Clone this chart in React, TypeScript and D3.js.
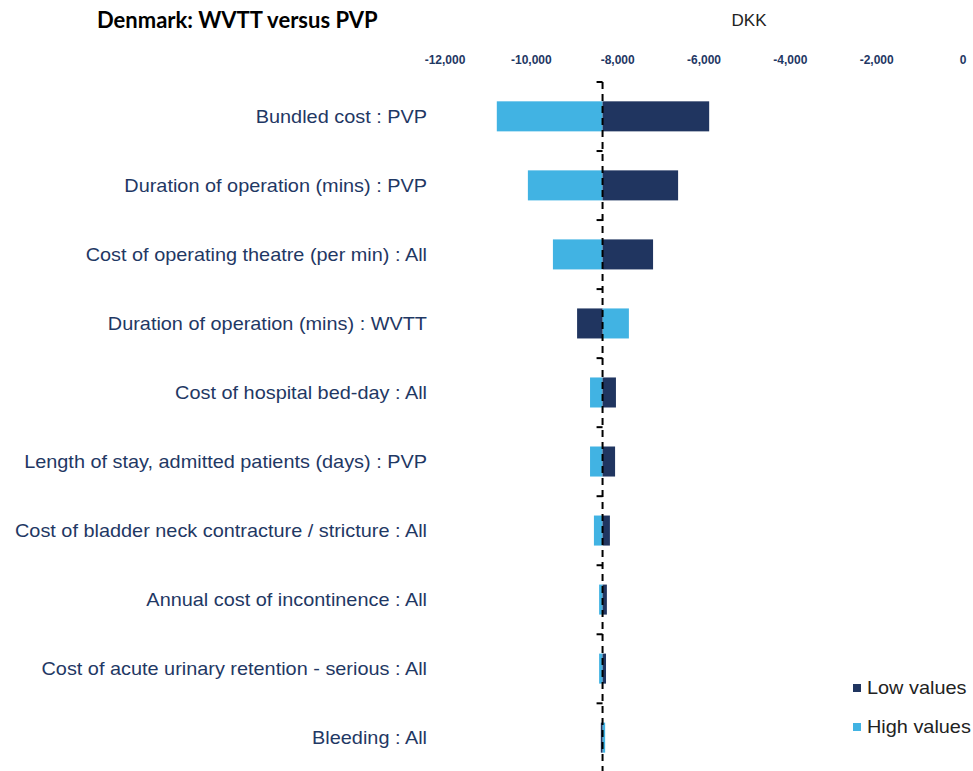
import React from "react";
import * as d3 from "d3";

const categories = [
  "Bundled cost : PVP",
  "Duration of operation (mins) : PVP",
  "Cost of operating theatre (per min) : All",
  "Duration of operation (mins) : WVTT",
  "Cost of hospital bed-day : All",
  "Length of stay, admitted patients (days) : PVP",
  "Cost of bladder neck contracture / stricture : All",
  "Annual cost of incontinence : All",
  "Cost of acute urinary retention - serious : All",
  "Bleeding : All",
];
const lowValues = [-5880, -6600, -7180, -8940, -8040, -8060, -8180, -8250, -8270, -8390];
const highValues = [-10800, -10080, -9500, -7740, -8640, -8640, -8550, -8430, -8430, -8290];
const baseValue = -8350;
const tickValues = [-12000, -10000, -8000, -6000, -4000, -2000, 0];
const title = "Denmark: WVTT versus PVP";
const unitLabel = "DKK";
const legendLabels = ["Low values", "High values"];

const W = 973;
const H = 771;
const DARK = "#203560";
const LIGHT = "#41B3E3";
const NAVY = "#1F3864";
const STRETCH = 1.105;

export default function App() {
  const x = d3.scaleLinear().domain([-12000, 0]).range([445, 963]);
  const y = d3.scaleBand<string>().domain(categories).range([82, 772]).paddingInner(0.565).paddingOuter(0.28);
  const bx = x(baseValue);
  const fmt = (v: number) => d3.format(",")(v).replace("\u2212", "-");
  const step = y.step();
  const boundaries = d3.range(categories.length).map((i) => 82 + i * step);

  return (
    <svg width={W} height={H} style={{ position: "absolute", left: 0, top: 0, display: "block", background: "#fff" }}>
      <text x={97} y={28} fontFamily="Lato, 'Open Sans', sans-serif" fontWeight="bold" fontSize={22} fill="#000">
        {title}
      </text>
      <text x={749} y={26} textAnchor="middle" fontFamily="'Liberation Sans', Arial, sans-serif" fontSize={17} fill="#222">
        {unitLabel}
      </text>
      {tickValues.map((t) => (
        <text key={t} x={x(t)} y={64} textAnchor="middle" fontFamily="'Liberation Sans', Arial, sans-serif" fontWeight="bold" fontSize={12} fill={NAVY}>
          {fmt(t)}
        </text>
      ))}
      {categories.map((c, i) => {
        const yy = y(c)!;
        const h = y.bandwidth();
        const lo = x(lowValues[i]);
        const hi = x(highValues[i]);
        return (
          <g key={c}>
            <rect x={Math.min(hi, bx)} y={yy} width={Math.abs(hi - bx)} height={h} fill={LIGHT} />
            <rect x={Math.min(lo, bx)} y={yy} width={Math.abs(lo - bx)} height={h} fill={DARK} />
            <text
              transform={`translate(427,${yy + h / 2}) scale(${STRETCH},1)`}
              dy="0.35em"
              textAnchor="end"
              fontFamily="'Liberation Sans', Arial, sans-serif"
              fontSize={18}
              fill={NAVY}
            >
              {c}
            </text>
          </g>
        );
      })}
      <line x1={bx} x2={bx} y1={82} y2={H} stroke="#000" strokeWidth={2} strokeDasharray="7,5" />
      {boundaries.map((b, i) => (
        <line key={i} x1={bx - 6} x2={bx} y1={b} y2={b} stroke="#000" strokeWidth={2} />
      ))}
      {legendLabels.map((l, i) => (
        <g key={l}>
          <rect x={853} y={684 + i * 39} width={8} height={8} fill={i === 0 ? DARK : LIGHT} />
          <text
            transform={`translate(867,${688 + i * 39}) scale(${STRETCH},1)`}
            dy="0.35em"
            fontFamily="'Liberation Sans', Arial, sans-serif"
            fontSize={18}
            fill="#222"
          >
            {l}
          </text>
        </g>
      ))}
    </svg>
  );
}
